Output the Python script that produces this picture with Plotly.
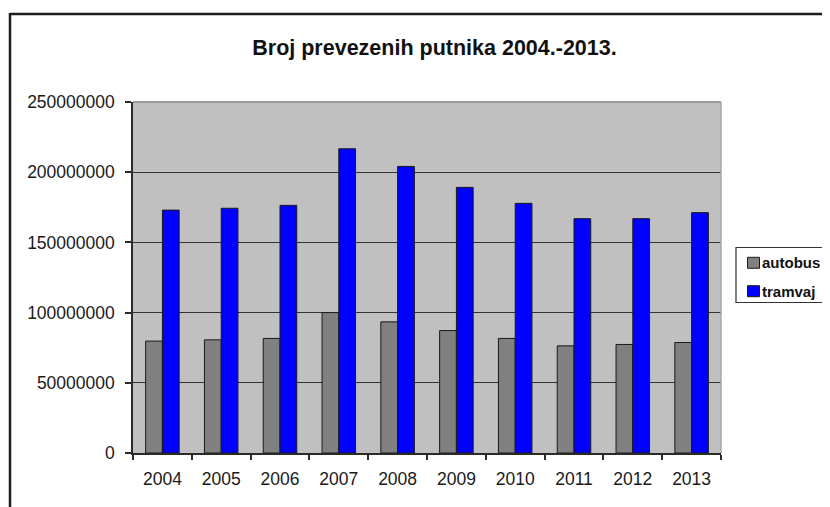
import plotly.graph_objects as go

years = ["2004", "2005", "2006", "2007", "2008", "2009", "2010", "2011", "2012", "2013"]
autobus = [79700000, 80600000, 81600000, 100000000, 93400000, 87200000, 81600000, 76300000, 77300000, 78700000]
tramvaj = [173000000, 174300000, 176400000, 216700000, 204100000, 189200000, 177800000, 166900000, 166900000, 171200000]
series_names = ["autobus", "tramvaj"]
series_colors = ["#808080", "#0000FF"]
y_ticks = [0, 50000000, 100000000, 150000000, 200000000, 250000000]
title_text = "Broj prevezenih putnika 2004.-2013."

OFF = 8  # page body margin
W, H = 830 - OFF, 507 - OFF
L, R, T, B = 133 - OFF, 109, 102 - OFF, 54
PW, PH = W - L - R, H - T - B


def px(x):
    return (x - OFF - L) / PW


def py(y):
    return (H - B - (y - OFF)) / PH


FONT = "Liberation Sans, Arial, sans-serif"

fig = go.Figure()
for name, vals, col in zip(series_names, [autobus, tramvaj], series_colors):
    fig.add_trace(go.Bar(
        x=years, y=vals, name=name,
        marker=dict(color=col, line=dict(color="#1a1a1a", width=1)),
        showlegend=False,
    ))

shapes = []
# outer chart frame (top and left edges visible)
shapes.append(dict(type="line", xref="paper", yref="paper",
                   x0=px(10), x1=px(840), y0=py(14), y1=py(14),
                   line=dict(color="#1c1c1c", width=2.5)))
shapes.append(dict(type="line", xref="paper", yref="paper",
                   x0=px(10), x1=px(10), y0=py(13), y1=py(515),
                   line=dict(color="#1c1c1c", width=2.5)))
# plot area border (top/right, light gray)
shapes.append(dict(type="line", xref="paper", yref="paper",
                   x0=0, x1=1, y0=1, y1=1, line=dict(color="#9a9a9a", width=2)))
shapes.append(dict(type="line", xref="paper", yref="paper",
                   x0=1, x1=1, y0=0, y1=1, line=dict(color="#a8a8a8", width=1.5)))
# legend box
shapes.append(dict(type="rect", xref="paper", yref="paper",
                   x0=px(736), x1=px(828), y0=py(247.5), y1=py(302.5),
                   line=dict(color="#333333", width=1.2), fillcolor="white"))

annotations = []
legend_y = [262.8, 291.2]
for name, col, yc in zip(series_names, series_colors, legend_y):
    shapes.append(dict(type="rect", xref="paper", yref="paper",
                       x0=px(747.5), x1=px(759.5), y0=py(yc - 5.5), y1=py(yc + 5.5),
                       line=dict(color="#1a1a1a", width=1), fillcolor=col))
    annotations.append(dict(xref="paper", yref="paper", x=px(760), y=py(yc),
                            xanchor="left", yanchor="middle", showarrow=False,
                            text=name, font=dict(family=FONT, size=15, color="#111111", weight="bold")))

fig.update_layout(
    width=W, height=H, autosize=False,
    margin=dict(l=L, r=R, t=T, b=B, pad=0),
    paper_bgcolor="white", plot_bgcolor="#C0C0C0",
    barmode="group", bargap=0.43, bargroupgap=0,
    title=dict(text=title_text, x=(434.5 - OFF) / W, xanchor="center", xref="container",
               y=1 - (47 - OFF) / H, yanchor="middle", yref="container",
               font=dict(family=FONT, size=21.5, color="#111111", weight="bold")),
    font=dict(family=FONT, size=17.5, color="#1a1a1a"),
    shapes=shapes, annotations=annotations,
    showlegend=False,
)
fig.update_xaxes(type="category", showline=True, linecolor="#2a2a2a", linewidth=1.5,
                 ticks="outside", tickson="boundaries", ticklen=5, tickcolor="#2a2a2a",
                 tickwidth=1.5, showgrid=False, ticklabelstandoff=9,
                 tickfont=dict(family=FONT, size=17.5, color="#1a1a1a"))
fig.update_yaxes(range=[0, 250000000], tickvals=y_ticks, ticktext=[str(v) for v in y_ticks],
                 showline=True, linecolor="#2a2a2a", linewidth=1.5,
                 ticks="outside", ticklen=6, tickcolor="#2a2a2a", tickwidth=1.5,
                 showgrid=True, gridcolor="#333333", gridwidth=1, zeroline=False,
                 ticklabelstandoff=7,
                 tickfont=dict(family=FONT, size=17.5, color="#1a1a1a"))

fig.write_html("out.html")
